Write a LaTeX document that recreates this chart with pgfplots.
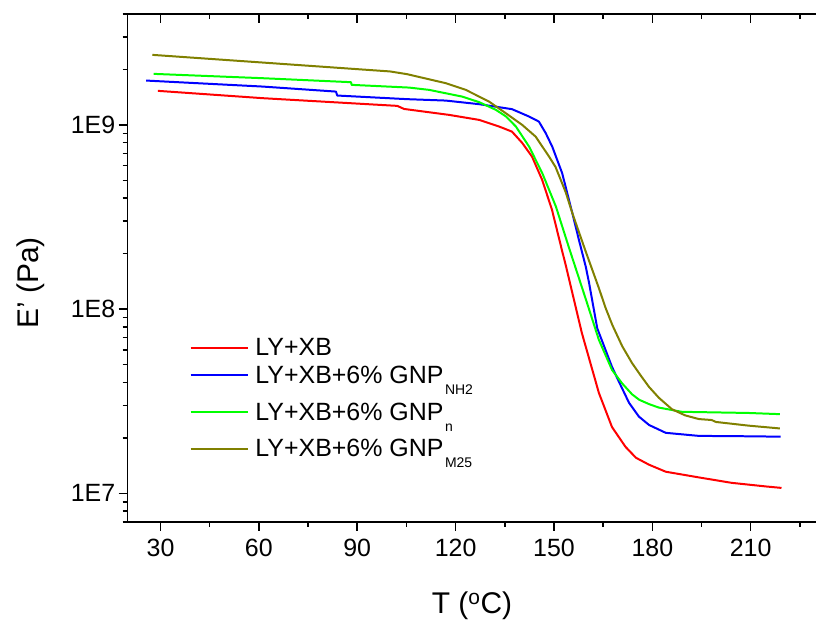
\documentclass[border=0pt]{standalone}
\usepackage{fontspec}
\setmainfont{Liberation Sans}
\usepackage{pgfplots}
\pgfplotsset{compat=1.18}
\definecolor{olv}{RGB}{128,128,0}
\definecolor{grn}{RGB}{0,255,0}
\newcommand{\sub}[1]{\hspace{1.5pt}\raisebox{-11pt}{\fontsize{14}{16}\selectfont #1}}
\newcommand{\rA}{\rule[-4pt]{0pt}{22pt}}
\newcommand{\rB}{\rule[-13pt]{0pt}{22pt}}
\begin{document}
\begin{tikzpicture}
\begin{axis}[
  at={(0pt,0pt)}, anchor=south west,
  scale only axis, width=690pt, height=509pt,
  xmin=20, xmax=230, ymode=log, ymin=7e6, ymax=4e9,
  axis x line*=bottom, axis y line*=left,
  axis line style={line width=1.5pt, -},
  tick align=outside,
  major tick length=9pt, minor tick length=5pt,
  every tick/.style={black, line width=1.5pt},
  xtick={30,60,...,210},
  minor xtick={45,75,105,135,165,195,225},
  ytick={1e7,1e8,1e9}, yticklabels={1E7,1E8,1E9},
  minor ytick={7e6,8e6,9e6,2e7,3e7,4e7,5e7,6e7,7e7,8e7,9e7,2e8,3e8,4e8,5e8,6e8,7e8,8e8,9e8,2e9,3e9,4e9},
  /pgf/number format/assume math mode=true,
  ticklabel style={font=\fontsize{25}{30}\selectfont},
  xticklabel style={yshift=-5pt},
  xlabel={T (\textsuperscript{o}C)}, ylabel={E' (Pa)},
  label style={font=\fontsize{30}{36}\selectfont},
  xlabel style={at={(axis description cs:0.5,-0.1807)}, anchor=base},
  ylabel style={at={(axis description cs:-0.130,0.4705)}, anchor=base},
  legend style={draw=none, fill=none, at={(axis description cs:0.0895,0.367)}, anchor=north west,
    font=\fontsize{25}{30}\selectfont, row sep=2.4pt, column sep=4pt, inner sep=0pt,
    nodes={inner sep=2pt, text depth=}, cells={anchor=base west}},
  legend image code/.code={\path (0pt,0pt); \draw[#1, line width=2pt] (0pt,8pt) -- (58pt,8pt);},
  every axis plot/.append style={line width=2pt, line join=round},
  clip=false,
]
\addplot[red] coordinates {
(29.2,1.530e9) (61.2,1.396e9) (102.2,1.268e9) (104.3,1.220e9) (118.0,1.133e9) (127.2,1.064e9)
(133.3,9.79e8) (137.2,9.19e8) (140.3,7.99e8) (143.3,6.73e8) (146.4,5.03e8) (149.4,3.46e8)
(152.4,2.10e8) (153.7,1.70e8) (158.5,7.43e7) (163.7,3.51e7) (167.7,2.29e7) (171.8,1.79e7)
(175.0,1.56e7) (179.0,1.43e7) (184.1,1.31e7) (194.2,1.22e7) (204.2,1.14e7) (214.6,1.09e7) (219.4,1.07e7)
};
\addlegendentry{\rA LY+XB}
\addplot[blue] coordinates {
(25.6,1.740e9) (61.2,1.614e9) (83.5,1.516e9) (83.9,1.443e9) (105.2,1.379e9) (117.0,1.355e9)
(127.2,1.295e9) (137.2,1.217e9) (142.4,1.110e9) (145.4,1.042e9) (147.5,9.01e8) (149.5,7.6e8)
(152.5,5.47e8) (155.6,3.32e8) (157.6,2.38e8) (159.7,1.70e8) (160.7,1.39e8) (163.2,7.87e7)
(167.7,4.86e7) (169.8,4.04e7) (172.9,3.10e7) (175.9,2.61e7) (179.0,2.35e7) (184.1,2.13e7)
(194.2,2.05e7) (209.4,2.04e7) (219.1,2.03e7)
};
\addlegendentry{\rB LY+XB+6\% GNP\sub{NH2}}
\addplot[grn] coordinates {
(27.9,1.892e9) (61.2,1.792e9) (88.1,1.705e9) (88.3,1.649e9) (105.8,1.594e9) (111.9,1.549e9)
(122.0,1.424e9) (127.2,1.328e9) (132.3,1.206e9) (135.4,1.110e9) (138.4,9.79e8) (142.4,7.63e8)
(146.4,5.49e8) (150.6,3.60e8) (154.6,2.15e8) (159.8,1.12e8) (163.7,6.81e7) (167.7,4.68e7)
(170.8,3.95e7) (173.8,3.45e7) (176.0,3.22e7) (179.0,3.05e7) (182.0,2.92e7) (189.0,2.77e7)
(209.4,2.73e7) (218.9,2.69e7)
};
\addlegendentry{\rB LY+XB+6\% GNP\sub{n}}
\addplot[olv] coordinates {
(27.5,2.399e9) (61.2,2.179e9) (100.0,1.950e9) (105.2,1.885e9) (117.0,1.684e9) (123.1,1.549e9)
(130.2,1.338e9) (135.3,1.157e9) (140.3,1.0e9) (144.4,8.64e8) (148.5,6.73e8) (150.5,5.9e8)
(153.6,4.3e8) (155.6,3.32e8) (159.7,2.05e8) (163.7,1.30e8) (165.7,1.02e8) (167.8,8.2e7)
(170.8,6.3e7) (173.8,5.10e7) (176.5,4.35e7) (179.0,3.78e7) (182.0,3.30e7) (186.0,2.86e7)
(190.0,2.65e7) (194.2,2.53e7) (198.1,2.50e7) (199.4,2.44e7) (209.4,2.33e7) (218.9,2.25e7)
};
\addlegendentry{\rB LY+XB+6\% GNP\sub{M25}}
\end{axis}
\begin{axis}[
  at={(0pt,0pt)}, anchor=south west,
  scale only axis, width=690pt, height=509pt,
  xmin=20, xmax=230, ymode=log, ymin=7e6, ymax=4e9,
  axis x line*=top, axis y line=none,
  axis line style={line width=1.5pt, -},
  tick align=inside,
  major tick length=9pt, minor tick length=5pt,
  every tick/.style={black, line width=1.5pt},
  xtick={30,60,...,210}, xticklabels={},
  minor xtick={45,75,105,135,165,195,225},
  ytick=\empty,
]
\end{axis}
\path[use as bounding box] (-128pt,-102pt) rectangle (689pt,523pt);
\end{tikzpicture}
\end{document}
